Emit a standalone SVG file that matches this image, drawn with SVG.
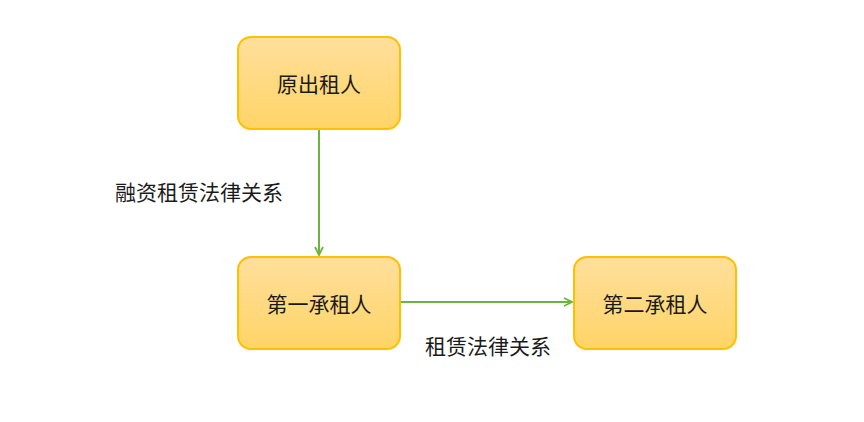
<svg xmlns="http://www.w3.org/2000/svg" width="864" height="422" viewBox="0 0 864 422">
<defs>
<linearGradient id="g" x1="0" y1="0" x2="0" y2="1">
<stop offset="0" stop-color="#ffdf9c"/>
<stop offset="1" stop-color="#ffd466"/>
</linearGradient>
<marker id="arr" viewBox="0 0 10 10" refX="9" refY="5" markerWidth="10" markerHeight="10" markerUnits="userSpaceOnUse" orient="auto">
<path d="M1,1 L9,5 L1,9" fill="none" stroke="#6db33f" stroke-width="1.8"/>
</marker>
<style>
.box{fill:url(#g);stroke:#ffc000;stroke-width:2}
.t{font-family:"Noto Sans CJK SC","Noto Sans CJK JP",sans-serif;font-size:21px;fill:#1a1a1a;text-anchor:middle;dominant-baseline:central}
.c{fill:none;stroke:#6db33f;stroke-width:2}
</style>
</defs>
<rect width="864" height="422" fill="#ffffff"/>
<g id="connectors">
<path class="c" d="M319,130 L319,255" marker-end="url(#arr)"/>
<path class="c" d="M401,302 L572,302" marker-end="url(#arr)"/>
<text class="t" x="199" y="191">融资租赁法律关系</text>
<text class="t" x="488" y="345">租赁法律关系</text>
</g>
<g id="n1">
<rect class="box" x="238" y="37" width="162" height="92" rx="13"/>
<text class="t" x="319" y="83">原出租人</text>
</g>
<g id="n2">
<rect class="box" x="238" y="257" width="162" height="92" rx="13"/>
<text class="t" x="319" y="303">第一承租人</text>
</g>
<g id="n3">
<rect class="box" x="574" y="257" width="162" height="92" rx="13"/>
<text class="t" x="655" y="303">第二承租人</text>
</g>
</svg>
